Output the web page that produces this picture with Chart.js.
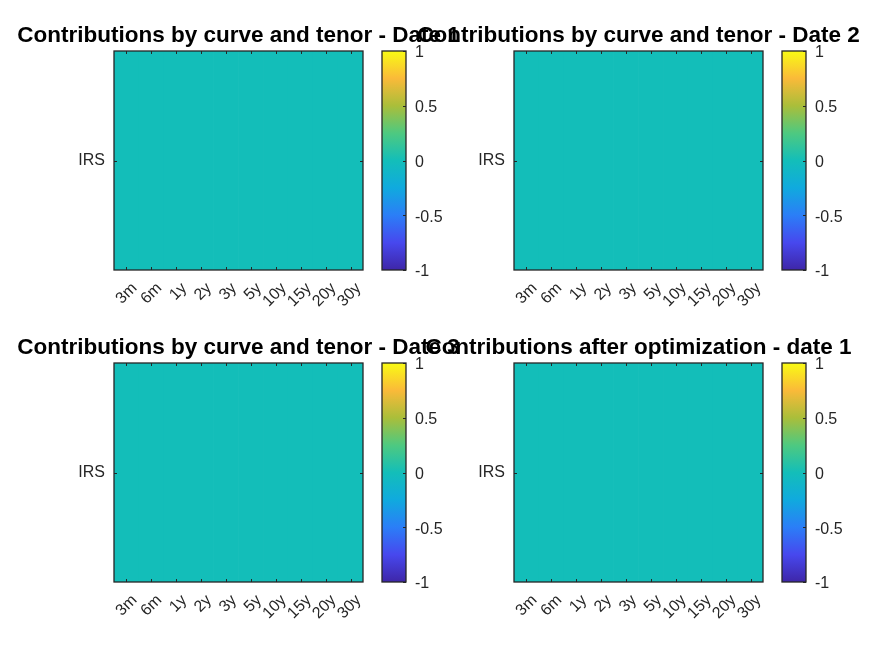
<!DOCTYPE html>
<html lang="en">
<head>
  <meta charset="UTF-8">
  <title>Contributions by curve and tenor</title>
  <script src="https://cdn.jsdelivr.net/npm/chart.js@4.4.1/dist/chart.umd.min.js"></script>
  <style>
    body { margin: 0; background: #fff; }
    #wrap { position: relative; width: 875px; height: 656px; }
    #wrap canvas { position: absolute; left: 0; top: 0; }
  </style>
</head>
<body>
  <div id="wrap"></div>

  <script>
    // tenors and curve names
    const tenors = ['3m', '6m', '1y', '2y', '3y', '5y', '10y', '15y', '20y', '30y'];
    const curves = ['IRS'];

    // contributions (all zero in the picture)
    const date1 = [0, 0, 0, 0, 0, 0, 0, 0, 0, 0];
    const date2 = [0, 0, 0, 0, 0, 0, 0, 0, 0, 0];
    const date3 = [0, 0, 0, 0, 0, 0, 0, 0, 0, 0];
    const optim1 = [0, 0, 0, 0, 0, 0, 0, 0, 0, 0];

    const titles = [
      'Contributions by curve and tenor - Date 1',
      'Contributions by curve and tenor - Date 2',
      'Contributions by curve and tenor - Date 3',
      'Contributions after optimization - date 1'
    ];
    const panels = [date1, date2, date3, optim1];

    // colour limits and colorbar ticks
    const cMin = -1, cMax = 1;
    const cbarTicks = [-1, -0.5, 0, 0.5, 1];

    // parula-like colormap stops
    const parula = [
      [0.000, [62, 38, 168]],
      [0.125, [71, 72, 238]],
      [0.250, [43, 126, 247]],
      [0.375, [16, 170, 222]],
      [0.500, [19, 190, 185]],
      [0.625, [78, 201, 128]],
      [0.750, [170, 190, 58]],
      [0.875, [250, 186, 57]],
      [1.000, [249, 251, 20]]
    ];

    function cmap(v) {
      let t = (v - cMin) / (cMax - cMin);
      t = Math.max(0, Math.min(1, t));
      for (let i = 1; i < parula.length; i++) {
        if (t <= parula[i][0]) {
          const [t0, c0] = parula[i - 1];
          const [t1, c1] = parula[i];
          const f = (t - t0) / (t1 - t0);
          const c = c0.map((a, k) => Math.round(a + (c1[k] - a) * f));
          return `rgb(${c[0]},${c[1]},${c[2]})`;
        }
      }
      return 'rgb(249,251,20)';
    }

    const W = 875, H = 656;
    const FONT = 'Liberation Sans, Arial, Helvetica, sans-serif';
    const INK = '#262626';

    Chart.defaults.font.family = FONT;
    Chart.defaults.color = INK;

    function newCanvas() {
      const c = document.createElement('canvas');
      c.width = W; c.height = H;
      c.style.width = W + 'px'; c.style.height = H + 'px';
      document.getElementById('wrap').appendChild(c);
      return c;
    }

    // box, inward tick marks, and title over the axes
    const axesDeco = {
      id: 'axesDeco',
      afterDraw(chart, args, opts) {
        const { ctx, chartArea: a } = chart;
        const x = chart.scales.x, y = chart.scales.y;
        ctx.save();
        ctx.strokeStyle = INK;
        ctx.lineWidth = 1;
        ctx.beginPath();
        if (opts.xTicks) {
          x.ticks.forEach((t, i) => {
            const px = Math.round(x.getPixelForTick(i)) + 0.5;
            ctx.moveTo(px, a.top); ctx.lineTo(px, a.top + 3);
            ctx.moveTo(px, a.bottom); ctx.lineTo(px, a.bottom - 3);
          });
        }
        y.ticks.forEach((t, i) => {
          const py = Math.round(y.getPixelForTick(i)) + 0.5;
          if (opts.leftTicks) { ctx.moveTo(a.left, py); ctx.lineTo(a.left + 3, py); }
          ctx.moveTo(a.right, py); ctx.lineTo(a.right - 3, py);
        });
        ctx.stroke();
        ctx.lineWidth = 1.3;
        ctx.strokeRect(a.left, a.top, a.right - a.left, a.bottom - a.top);
        if (opts.title) {
          ctx.fillStyle = '#000';
          ctx.font = 'bold 22.5px ' + FONT;
          ctx.textAlign = 'center';
          ctx.textBaseline = 'middle';
          ctx.fillText(opts.title, (a.left + a.right) / 2, a.top - 15);
        }
        ctx.restore();
      }
    };

    function heatmap(values, title, left, top) {
      const right = left + 249, bottom = top + 219;
      new Chart(newCanvas(), {
        type: 'bar',
        data: {
          labels: tenors,
          datasets: curves.map((name, r) => ({
            label: name,
            data: values.map(() => [r, r + 1]),
            backgroundColor: values.map(v => cmap(v)),
            borderWidth: 0,
            barPercentage: 1,
            categoryPercentage: 1,
            grouped: false
          }))
        },
        options: {
          responsive: false,
          animation: false,
          layout: { padding: { left: left - 44, top: top, right: W - right, bottom: H - bottom - 60 } },
          plugins: {
            legend: { display: false },
            tooltip: { enabled: false },
            axesDeco: { title: title, xTicks: true, leftTicks: true }
          },
          scales: {
            x: {
              grid: { display: false },
              border: { display: false },
              ticks: { minRotation: 45, maxRotation: 45, autoSkip: false, padding: 1, labelOffset: 8, font: { size: 16 } },
              afterFit: s => { s.height = 60; }
            },
            y: {
              min: 0,
              max: curves.length,
              grid: { display: false },
              border: { display: false },
              afterBuildTicks: s => { s.ticks = curves.map((c, i) => ({ value: i + 0.5 })); },
              ticks: { callback: (v, i) => curves[i], padding: 1, font: { size: 16 } },
              afterFit: s => { s.width = 44; }
            }
          }
        },
        plugins: [axesDeco]
      });
    }

    function colorbar(left, top) {
      const right = left + 24, bottom = top + 219;
      new Chart(newCanvas(), {
        type: 'bar',
        data: {
          labels: [''],
          datasets: [{
            data: [[cMin, cMax]],
            backgroundColor: ctx => {
              const a = ctx.chart.chartArea;
              if (!a) return cmap(0);
              const g = ctx.chart.ctx.createLinearGradient(0, a.bottom, 0, a.top);
              parula.forEach(([t, c]) => g.addColorStop(t, `rgb(${c[0]},${c[1]},${c[2]})`));
              return g;
            },
            borderWidth: 0,
            barPercentage: 1,
            categoryPercentage: 1
          }]
        },
        options: {
          responsive: false,
          animation: false,
          layout: { padding: { left: left, top: top, right: W - right - 50, bottom: H - bottom } },
          plugins: {
            legend: { display: false },
            tooltip: { enabled: false },
            axesDeco: { xTicks: false, leftTicks: false }
          },
          scales: {
            x: { display: false },
            y: {
              position: 'right',
              min: cMin,
              max: cMax,
              grid: { display: false },
              border: { display: false },
              afterBuildTicks: s => { s.ticks = cbarTicks.map(v => ({ value: v })); },
              ticks: { padding: 1, labelOffset: 2, font: { size: 16 }, callback: v => String(v) },
              afterFit: s => { s.width = 50; }
            }
          }
        },
        plugins: [axesDeco]
      });
    }

    const spots = [[114, 51], [514, 51], [114, 363], [514, 363]];
    spots.forEach(([l, t], i) => {
      heatmap(panels[i], titles[i], l, t);
      colorbar(l + 268, t);
    });
  </script>
</body>
</html>
